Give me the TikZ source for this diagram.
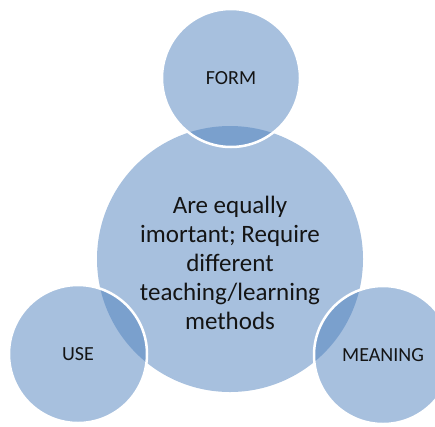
\documentclass[tikz,border=0pt]{standalone}
\usepackage{fontspec}
\setmainfont{Carlito}
\definecolor{accentblue}{RGB}{79,129,189}
\definecolor{labeltext}{RGB}{20,20,20}
\tikzset{
  bigcircle/.style={circle, inner sep=0pt, minimum size=266pt, fill=accentblue, fill opacity=0.5, text opacity=1, draw=none, text=labeltext, align=center, font=\fontsize{25}{28.8}\selectfont},
  smallcircle/.style={circle, inner sep=0pt, minimum size=138pt, fill=accentblue, fill opacity=0.5, text opacity=1, draw=white, draw opacity=1, line width=2.5pt, text=labeltext, font=\fontsize{20}{24}\selectfont}
}
\begin{document}
\begin{tikzpicture}[x=1pt,y=-1pt]
\useasboundingbox (0,0) rectangle (435,426);
\node[bigcircle] (center) at (230,259) {};
\node[labeltext, align=center, font=\fontsize{25}{28.8}\selectfont] (centertext) at (230,263) {Are equally\\imortant; Require\\different\\teaching/learning\\methods};
\node[smallcircle] (form) at (231,78) {FORM};
\node[smallcircle] (use) at (78,354) {USE};
\node[smallcircle] (meaning) at (383,355) {MEANING};
\end{tikzpicture}
\end{document}
